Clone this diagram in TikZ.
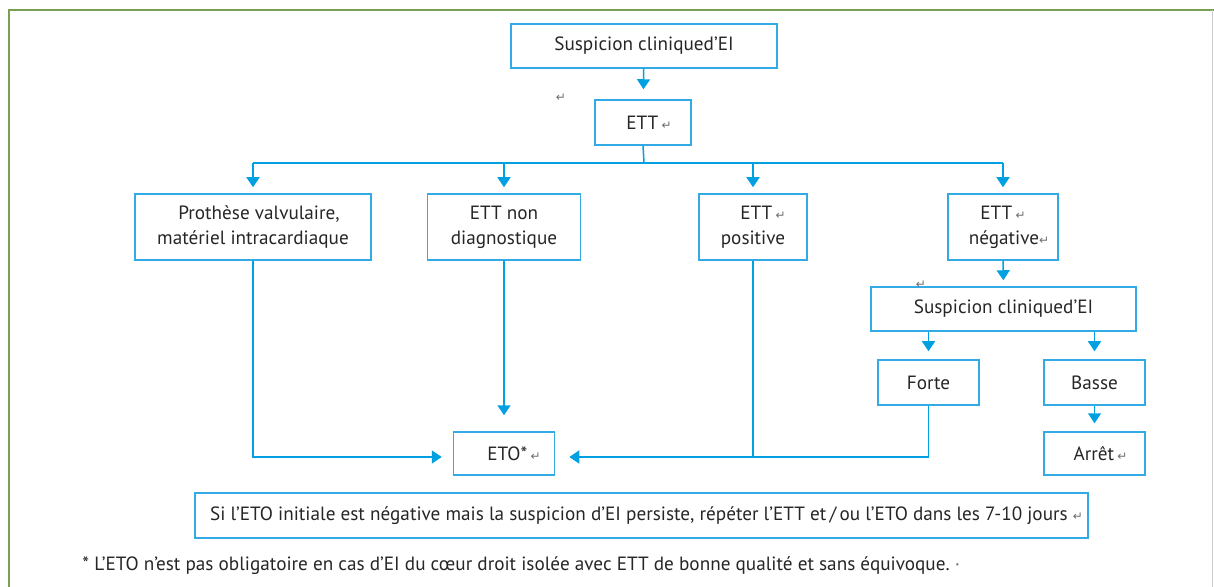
\documentclass[tikz,border=0pt]{standalone}
\usepackage{fontspec}
\setmainfont{PT Sans}
\newfontfamily\symfont{DejaVu Sans}
\usetikzlibrary{arrows.meta}
\definecolor{boxblue}{RGB}{50,170,230}
\definecolor{arrblue}{RGB}{0,160,225}
\definecolor{framegreen}{RGB}{120,160,80}
\definecolor{markgray}{RGB}{110,110,110}
\newcommand{\rmark}{{\symfont\color{markgray}\fontsize{6}{7}\selectfont ↵}}
\tikzset{
  x=0.5pt, y=-0.5pt,
  box/.style={draw=boxblue, line width=0.75pt, inner sep=0pt, align=center,
     font=\fontsize{9.6}{12.5}\selectfont, text=black!85},
  conn/.style={draw=arrblue, line width=0.75pt},
  arr/.style={conn, -{Triangle[width=6.5pt,length=5pt]}},
}
\begin{document}
\begin{tikzpicture}
\useasboundingbox (0,0) rectangle (1214,587);
% frame
\draw[framegreen, line width=1.2pt] (9,587) -- (9,10) -- (1214,10);
\draw[black!20, line width=0.5pt] (1212.5,10) -- (1212.5,587);

% nodes
\node[box, minimum width=133pt, minimum height=22pt] (s1) at (644,46) {Suspicion cliniqued’EI};
\node[box, minimum width=48pt, minimum height=22.5pt] (ett) at (643,122.5) {\hspace*{6pt}ETT\,\rmark};
\node[box, minimum width=118pt, minimum height=33pt] (pro) at (253,227) {\hspace*{6pt}Prothèse valvulaire,\\matériel intracardiaque};
\node[box, minimum width=76.5pt, minimum height=33pt] (nd) at (504,227) {ETT non\\diagnostique};
\node[box, minimum width=54pt, minimum height=33pt] (pos) at (753,227) {\hspace*{10pt}ETT\,\rmark\\positive};
\node[box, minimum width=55pt, minimum height=33pt] (neg) at (1003,227) {ETT\,\rmark\\\hspace*{6pt}négative\rmark};
\node[box, minimum width=132.5pt, minimum height=22pt] (s2) at (1003.5,309) {Suspicion cliniqued’EI};
\node[box, minimum width=50.5pt, minimum height=22.5pt] (forte) at (928.5,382.5) {Forte};
\node[box, minimum width=50.5pt, minimum height=22.5pt] (basse) at (1094.5,382.5) {Basse};
\node[box, minimum width=50.5pt, minimum height=21.5pt] (arret) at (1094.5,453.5) {\hspace*{6pt}Arrêt\,\rmark};
\node[box, minimum width=50.5pt, minimum height=21.5pt] (eto) at (504,453.5) {\hspace*{10pt}ETO*\,\rmark};
\node[box, minimum width=446.5pt, minimum height=22.5pt] (bot) at (641.5,515.5)
  {\hspace*{5pt}Si l’ETO initiale est négative mais la suspicion d’EI persiste, répéter l’ETT et\,/\,ou l’ETO dans les 7-10 jours\ \rmark};
\node[anchor=west, inner sep=0pt, font=\fontsize{9.6}{11}\selectfont, text=black!85] (foot) at (82,566)
  {* L’ETO n’est pas obligatoire en cas d’EI du cœur droit isolée avec ETT de bonne qualité et sans équivoque.\ {\color{markgray}·}};
\node (m1) at (561,98) {\rmark};
\node (m2) at (921,285) {\rmark};

% connectors
\coordinate (bus) at (644,163);
\draw[arr, shorten >=5pt] (s1) -- (ett);
\draw[conn] (ett.south) -- (bus);
\draw[conn] (pro.north |- bus) -- (neg.north |- bus);
\draw[arr, shorten >=3pt] (pro.north |- bus) -- (pro.north);
\draw[arr, shorten >=3pt] (nd.north |- bus) -- (nd.north);
\draw[arr, shorten >=3pt] (pos.north |- bus) -- (pos.north);
\draw[arr, shorten >=3pt] (neg.north |- bus) -- (neg.north);
\draw[arr, shorten >=3pt] (neg.south) -- (s2.north);
\draw[arr, shorten >=4pt] (forte.north |- s2.south) -- (forte.north);
\draw[arr, shorten >=4pt] (basse.north |- s2.south) -- (basse.north);
\draw[arr, shorten >=4pt] (basse.south) -- (arret.north);
\coordinate (jy) at (0,457);
\draw[arr, shorten >=5.5pt] (pro.south) -- (pro.south |- jy) -- (eto.west |- jy);
\draw[arr, shorten >=8pt] (nd.south) -- (eto.north);
\draw[arr, shorten >=7pt] (forte.south) -- (forte.south |- jy) -- (eto.east |- jy);
\draw[conn] (pos.south) -- (pos.south |- jy);
\end{tikzpicture}
\end{document}
